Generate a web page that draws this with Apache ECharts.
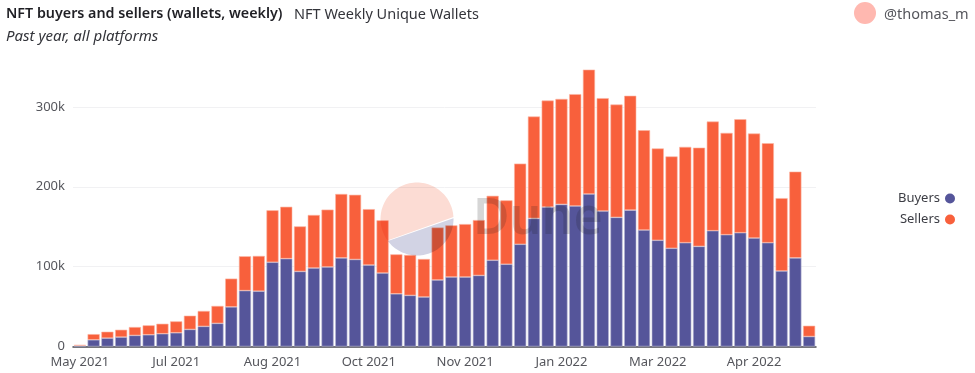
<!DOCTYPE html>
<html>
<head>
<meta charset="utf-8">
<title>NFT buyers and sellers</title>
<script src="https://cdn.jsdelivr.net/npm/echarts@6/dist/echarts.min.js"></script>
<style>
html, body { margin: 0; padding: 0; background: #fff; }
#chart { width: 975px; height: 373px; }
</style>
</head>
<body>
<div id="chart"></div>
<script>
var weeks = [
  '2021-05-03','2021-05-10','2021-05-17','2021-05-24','2021-05-31','2021-06-07','2021-06-14','2021-06-21','2021-06-28',
  '2021-07-05','2021-07-12','2021-07-19','2021-07-26','2021-08-02','2021-08-09','2021-08-16','2021-08-23','2021-08-30',
  '2021-09-06','2021-09-13','2021-09-20','2021-09-27','2021-10-04','2021-10-11','2021-10-18','2021-10-25','2021-11-01',
  '2021-11-08','2021-11-15','2021-11-22','2021-11-29','2021-12-06','2021-12-13','2021-12-20','2021-12-27','2022-01-03',
  '2022-01-10','2022-01-17','2022-01-24','2022-01-31','2022-02-07','2022-02-14','2022-02-21','2022-02-28','2022-03-07',
  '2022-03-14','2022-03-21','2022-03-28','2022-04-04','2022-04-11','2022-04-18','2022-04-25','2022-05-02','2022-05-09'
];
// thousands of wallets
var buyers = [
  1, 8.4, 10.5, 11.8, 13.9, 14.7, 16, 17.2, 21.4,
  25.2, 29, 49.6, 70, 69.3, 105.5, 110, 94, 98.3,
  99.6, 111, 109, 102, 92, 66, 64, 62, 83.3,
  87, 87, 89, 108, 103, 128, 160.4, 174.6, 178,
  176, 191, 169.6, 161.7, 170.8, 145.8, 133, 123, 130,
  125.4, 145, 140, 142.5, 135.8, 130, 94.6, 111, 12.5
];
var sellers = [
  1, 7.1, 8, 9.2, 10.5, 11.8, 12.5, 14.3, 17.2,
  19.3, 21.8, 35.4, 43, 44.1, 65.1, 65, 56.4, 66.4,
  71.8, 80, 81, 70, 66, 49.4, 50.6, 47.6, 65.7,
  64.7, 66.3, 69.3, 80.7, 80, 101, 127.6, 133.4, 132,
  140, 155.7, 141.4, 141.3, 143.2, 125, 115, 115, 120,
  123.6, 136.7, 127.5, 142.1, 130.9, 124.6, 91.2, 108, 13.5
];
var tickLabels = ['May 2021', 'Jul 2021', 'Aug 2021', 'Oct 2021', 'Nov 2021', 'Jan 2022', 'Mar 2022', 'Apr 2022'];

var font = '"Noto Sans", sans-serif';

// one slice of the watermark circle
function slicePoints(cx, cy, r, fromDeg, toDeg) {
  var pts = [];
  for (var a = fromDeg; a <= toDeg; a += 3) {
    pts.push([cx + r * Math.cos(a * Math.PI / 180), cy + r * Math.sin(a * Math.PI / 180)]);
  }
  return pts;
}

var option = {
  animation: false,
  textStyle: { fontFamily: font },
  tooltip: { trigger: 'axis' },
  title: [
    { text: 'NFT buyers and sellers (wallets, weekly)', left: 6, top: 7, padding: 0, textStyle: { fontFamily: font, fontSize: 14.3, fontWeight: 600, color: '#1f1f24' } },
    { text: 'NFT Weekly Unique Wallets', left: 294, top: 7, padding: 0, textStyle: { fontFamily: font, fontSize: 14.5, fontWeight: 400, color: '#33343a' } },
    { text: 'Past year, all platforms', left: 6, top: 29, padding: 0, textStyle: { fontFamily: font, fontSize: 15, fontWeight: 400, fontStyle: 'italic', color: '#33343a' } },
    { text: '@thomas_m', left: 884, top: 7, padding: 0, textStyle: { fontFamily: font, fontSize: 14.5, fontWeight: 400, color: '#55565c' } }
  ],
  legend: {
    orient: 'vertical',
    right: 20,
    top: 192,
    align: 'right',
    icon: 'circle',
    itemWidth: 10,
    itemHeight: 10,
    itemGap: 8,
    padding: 0,
    itemStyle: { borderWidth: 0 },
    textStyle: { fontFamily: font, fontSize: 13, color: '#3c3d44' }
  },
  grid: { left: 73, right: 159, top: 67, height: 279.5 },
  xAxis: {
    type: 'category',
    data: weeks,
    axisTick: { show: false },
    axisLine: { lineStyle: { color: '#4a4a52', width: 1.5 } },
    axisLabel: {
      interval: 6,
      margin: 9,
      fontSize: 13,
      color: '#55565c',
      formatter: function (value, index) { return tickLabels[index / 7]; }
    }
  },
  yAxis: {
    type: 'value',
    min: 0,
    max: 350,
    interval: 100,
    axisLine: { show: false },
    axisTick: { show: false },
    splitLine: { showMaxLine: false, lineStyle: { color: '#f1f1f3', width: 1 } },
    axisLabel: {
      showMaxLabel: false,
      margin: 8,
      fontSize: 13,
      color: '#55565c',
      formatter: function (v) { return v === 0 ? '0' : v + 'k'; }
    }
  },
  series: [
    {
      name: 'Buyers',
      type: 'bar',
      stack: 'wallets',
      data: buyers,
      barCategoryGap: '12%',
      itemStyle: { color: '#55559a', borderColor: '#b3b3d2', borderWidth: 0.6 }
    },
    {
      name: 'Sellers',
      type: 'bar',
      stack: 'wallets',
      data: sellers,
      barCategoryGap: '12%',
      itemStyle: { color: '#f8603c', borderColor: '#fcb5a3', borderWidth: 0.6 }
    }
  ],
  // avatar dot and the Dune watermark sit over the plot
  graphic: [
    { type: 'circle', shape: { cx: 865, cy: 13, r: 11 }, style: { fill: '#ffb8b0' }, silent: true },
    {
      type: 'polygon', z: 50, silent: true,
      shape: { points: slicePoints(417, 219, 36.5, 144, 358.7) },
      style: { fill: '#fcdcd4', blend: 'multiply' }
    },
    {
      type: 'polygon', z: 51, silent: true,
      shape: { points: slicePoints(417, 219, 36.5, -1.3, 144) },
      style: { fill: '#d2d3e4', blend: 'multiply' }
    },
    {
      type: 'text', z: 52, silent: true, left: 473, top: 195,
      style: { text: 'Dune', fontFamily: font, fontSize: 50, fontWeight: 600, fill: 'rgba(30,30,30,0.18)' }
    }
  ]
};

var myChart = echarts.init(document.getElementById('chart'));
myChart.setOption(option);
</script>
</body>
</html>
